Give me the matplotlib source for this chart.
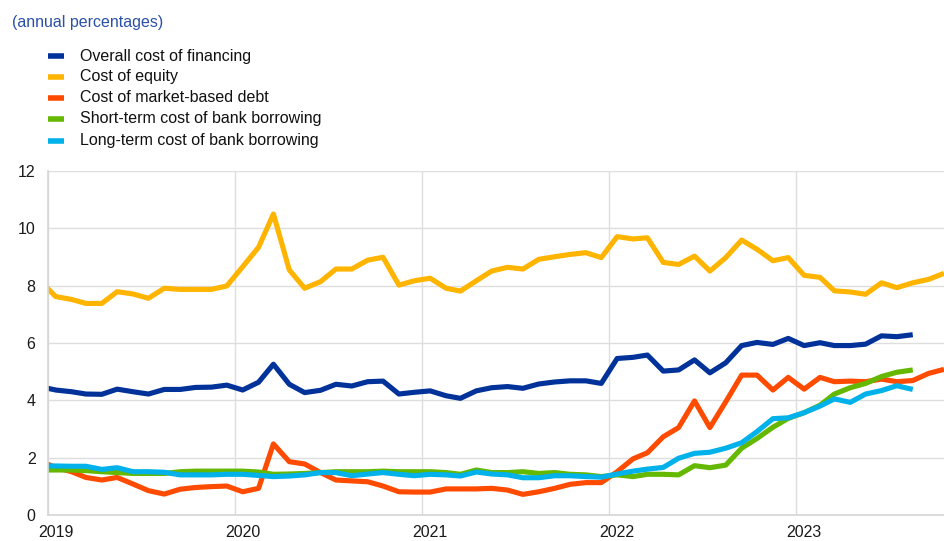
import matplotlib
matplotlib.use("Agg")
import matplotlib.pyplot as plt
from matplotlib.lines import Line2D
import pandas as pd

plt.rcParams['font.family'] = ['Liberation Sans', 'DejaVu Sans']

title = "(annual percentages)"
series_names = ["Overall cost of financing", "Cost of equity", "Cost of market-based debt",
                "Short-term cost of bank borrowing", "Long-term cost of bank borrowing"]
colors = ["#003299", "#FFB400", "#FF4B00", "#65B800", "#00B1EA"]

start_month = "2018-12-01"  # first value (Dec 2018) lies just left of the axis

overall = [4.48,
           4.36, 4.30, 4.22, 4.21, 4.39, 4.30, 4.22, 4.38, 4.38, 4.45, 4.46, 4.53,
           4.36, 4.63, 5.26, 4.56, 4.27, 4.35, 4.56, 4.50, 4.65, 4.67, 4.22, 4.28,
           4.33, 4.16, 4.07, 4.33, 4.44, 4.48, 4.42, 4.57, 4.64, 4.68, 4.68, 4.59,
           5.46, 5.50, 5.58, 5.02, 5.06, 5.41, 4.96, 5.31, 5.91, 6.02, 5.95, 6.16,
           5.91, 6.01, 5.91, 5.91, 5.96, 6.25, 6.22, 6.29]
equity = [8.18,
          7.62, 7.52, 7.38, 7.38, 7.79, 7.71, 7.56, 7.91, 7.87, 7.87, 7.87, 7.99,
          8.66, 9.34, 10.5, 8.55, 7.91, 8.14, 8.58, 8.58, 8.89, 8.99, 8.02, 8.17,
          8.26, 7.91, 7.81, 8.17, 8.51, 8.64, 8.58, 8.92, 9.01, 9.09, 9.15, 8.98,
          9.71, 9.63, 9.67, 8.81, 8.74, 9.03, 8.51, 8.98, 9.59, 9.27, 8.87, 8.98,
          8.36, 8.29, 7.82, 7.78, 7.70, 8.10, 7.93, 8.10, 8.22, 8.43]
market_debt = [1.88,
               1.66, 1.51, 1.31, 1.22, 1.31, 1.08, 0.85, 0.73, 0.90, 0.96, 0.99, 1.01,
               0.81, 0.93, 2.48, 1.86, 1.78, 1.48, 1.22, 1.19, 1.16, 1.01, 0.81, 0.80,
               0.80, 0.91, 0.91, 0.91, 0.93, 0.87, 0.72, 0.81, 0.93, 1.07, 1.13, 1.13,
               1.51, 1.96, 2.17, 2.73, 3.05, 3.98, 3.05, 3.95, 4.88, 4.88, 4.36, 4.80,
               4.39, 4.80, 4.65, 4.67, 4.65, 4.74, 4.65, 4.69, 4.94, 5.08]
short_bank = [1.57,
              1.57, 1.57, 1.55, 1.51, 1.48, 1.45, 1.45, 1.45, 1.51, 1.53, 1.53, 1.53,
              1.53, 1.50, 1.42, 1.43, 1.45, 1.48, 1.51, 1.51, 1.51, 1.53, 1.51, 1.51,
              1.51, 1.48, 1.42, 1.57, 1.48, 1.48, 1.51, 1.45, 1.48, 1.42, 1.40, 1.34,
              1.40, 1.34, 1.42, 1.42, 1.40, 1.72, 1.65, 1.74, 2.33, 2.67, 3.06, 3.37,
              3.57, 3.83, 4.22, 4.44, 4.59, 4.83, 4.98, 5.06]
long_bank = [1.71,
             1.71, 1.70, 1.70, 1.59, 1.65, 1.51, 1.51, 1.49, 1.40, 1.40, 1.40, 1.42,
             1.42, 1.38, 1.34, 1.36, 1.40, 1.48, 1.48, 1.37, 1.43, 1.48, 1.42, 1.37,
             1.42, 1.40, 1.36, 1.50, 1.43, 1.40, 1.30, 1.30, 1.37, 1.37, 1.34, 1.32,
             1.43, 1.53, 1.60, 1.66, 1.98, 2.15, 2.19, 2.33, 2.52, 2.91, 3.36, 3.39,
             3.57, 3.80, 4.05, 3.93, 4.22, 4.34, 4.51, 4.38]

y_ticks = [0, 2, 4, 6, 8, 10, 12]
year_labels = ["2019", "2020", "2021", "2022", "2023"]

all_series = [overall, equity, market_debt, short_bank, long_bank]

W, H = 944, 541
FS = 11.5
fig = plt.figure(figsize=(W / 100, H / 100), dpi=100)
ax = fig.add_axes([48 / W, (H - 515) / H, (W - 48) / W, (515 - 171) / H])

for vals, col in zip(all_series, colors):
    dates = pd.date_range(start_month, periods=len(vals), freq="MS") + pd.Timedelta(days=15)
    ax.plot(dates, vals, color=col, lw=3.7, solid_joinstyle="round",
            solid_capstyle="butt", clip_on=True)

ax.set_ylim(0, 12)
ax.set_yticks(y_ticks)
ax.set_yticklabels([str(v) for v in y_ticks])
ax.set_xlim(pd.Timestamp("2019-01-01"), pd.Timestamp("2023-10-16"))

year_starts = [pd.Timestamp(f"{y}-01-01") for y in year_labels]
ax.set_xticks(year_starts)
ax.set_xticklabels([])
label_pos = [pd.Timestamp(f"{y}-01-16") for y in year_labels]
ax.set_xticks(label_pos, minor=True)
ax.set_xticklabels(year_labels, minor=True)

ax.grid(True, which="major", color="#dedede", lw=1.0)
ax.set_axisbelow(True)
for s in ["top", "right"]:
    ax.spines[s].set_visible(False)
for s in ["left", "bottom"]:
    ax.spines[s].set_color("#d6d6d6")
    ax.spines[s].set_linewidth(1.2)
ax.tick_params(axis="both", which="both", length=0, labelsize=FS, colors="#1a1a1a")
ax.tick_params(axis="y", pad=9)
ax.tick_params(axis="x", which="minor", pad=7.5)

fig.text(12 / W, 1 - 22 / H, title, color="#2b50a8", fontsize=FS, va="center", ha="left")

row_y = [56, 77, 98, 119, 141]
for name, col, yy in zip(series_names, colors, row_y):
    fy = 1 - yy / H
    fig.add_artist(Line2D([48 / W, 64 / W], [fy, fy], color=col, lw=4.0,
                          solid_capstyle="butt", transform=fig.transFigure))
    fig.text(80 / W, fy, name, color="#111111", fontsize=FS, va="center", ha="left")

fig.savefig("out.png", dpi=100)
